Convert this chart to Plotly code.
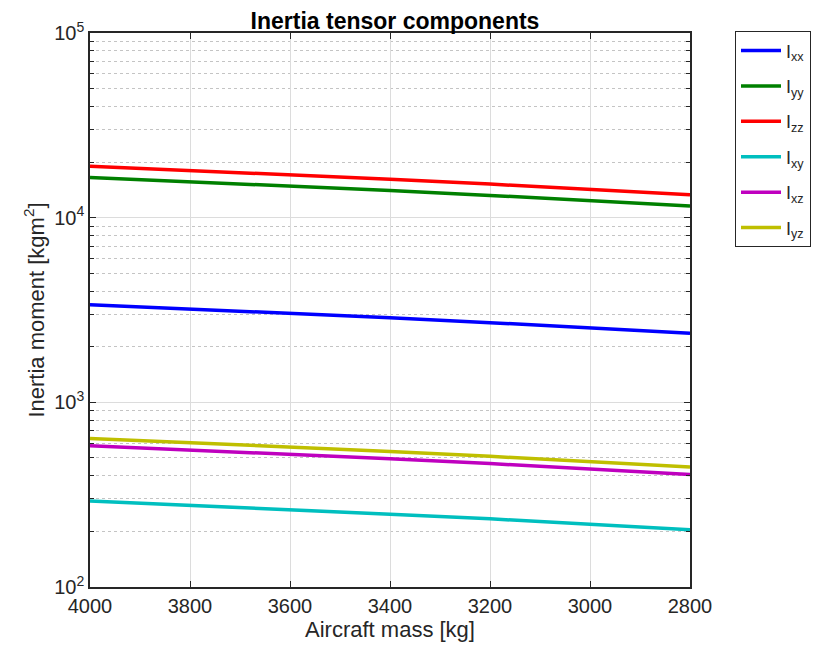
import plotly.graph_objects as go

mass = [4000, 3800, 3600, 3400, 3200, 3000, 2800]
Ixx = [3380, 3210, 3040, 2870, 2700, 2540, 2370]
Iyy = [16500, 15680, 14850, 14030, 13200, 12380, 11550]
Izz = [19000, 18050, 17100, 16150, 15200, 14250, 13300]
Ixy = [292, 277, 263, 248, 234, 219, 204]
Ixz = [582, 553, 524, 495, 466, 437, 407]
Iyz = [638, 606, 574, 542, 510, 479, 447]

names = ["I<sub>xx</sub>", "I<sub>yy</sub>", "I<sub>zz</sub>",
         "I<sub>xy</sub>", "I<sub>xz</sub>", "I<sub>yz</sub>"]
series = [Ixx, Iyy, Izz, Ixy, Ixz, Iyz]
colors = ["#0000ff", "#008000", "#ff0000", "#00bfbf", "#bf00bf", "#bfbf00"]

xtickvals = [4000, 3800, 3600, 3400, 3200, 3000, 2800]
ytickvals = [100, 1000, 10000, 100000]
yticktext = ["10<sup>2</sup>", "10<sup>3</sup>", "10<sup>4</sup>", "10<sup>5</sup>"]
yminor = [m * d for d in [100, 1000, 10000] for m in range(2, 10)]

fig = go.Figure()
for i, (n, s, c) in enumerate(zip(names, series, colors)):
    fig.add_trace(go.Scatter(x=mass, y=s, mode="lines", name=n,
                             legendgroup=f"g{i}",
                             line=dict(color=c, width=3.5)))

font = "Liberation Sans, Arial, sans-serif"
fig.update_layout(
    width=822, height=655,
    margin=dict(l=82, r=140, t=25, b=76),
    paper_bgcolor="white", plot_bgcolor="white",
    font=dict(family=font, color="#262626"),
    title=dict(text="<b>Inertia tensor components</b>", x=0.4708, xanchor="center",
               xref="container", y=0.981, yanchor="middle",
               font=dict(size=23, color="black")),
    legend=dict(x=1.075, y=1.003, xanchor="left", yanchor="top",
                bordercolor="#262626", borderwidth=1, bgcolor="white",
                font=dict(size=18, color="#262626", family=font),
                itemwidth=40, tracegroupgap=9),
)
fig.update_xaxes(
    range=[4000, 2800], tickvals=xtickvals,
    showline=True, linecolor="#262626", linewidth=1.5, mirror="ticks",
    ticks="inside", ticklen=6, tickcolor="#262626",
    showgrid=True, gridcolor="#dcdcdc", gridwidth=1, zeroline=False,
    tickfont=dict(size=20, color="#262626"),
    title=dict(text="Aircraft mass [kg]", font=dict(size=22, color="#262626"), standoff=6),
)
fig.update_yaxes(
    type="log", range=[2, 5], tickvals=ytickvals, ticktext=yticktext,
    showline=True, linecolor="#262626", linewidth=1.5, mirror="ticks",
    ticks="inside", ticklen=6, tickcolor="#262626",
    showgrid=True, gridcolor="#dcdcdc", gridwidth=1, zeroline=False,
    tickfont=dict(size=20, color="#262626"),
    minor=dict(tickvals=yminor, ticks="inside", ticklen=4, tickcolor="#262626",
               showgrid=True, gridcolor="#c4c4c4", griddash="dot", gridwidth=1),
    title=dict(text="Inertia moment [kgm<sup>2</sup>]", font=dict(size=22, color="#262626"), standoff=4),
)
fig.write_html("out.html")
